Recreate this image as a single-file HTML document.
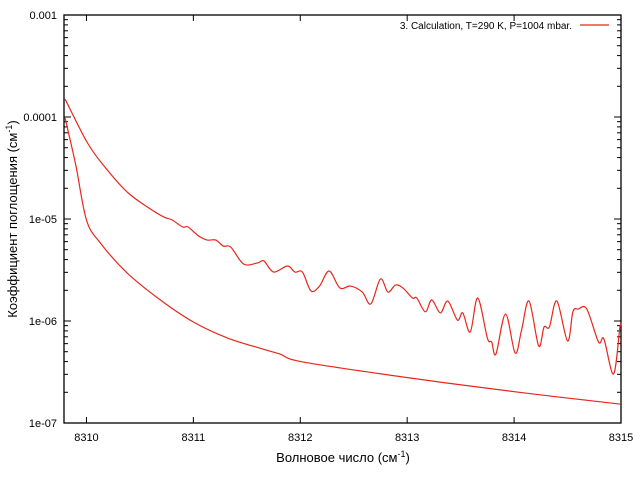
<!DOCTYPE html>
<html><head><meta charset="utf-8">
<style>
body{margin:0;background:#fff;}
svg{display:block;font-family:"Liberation Sans","DejaVu Sans",sans-serif;}
</style></head>
<body>
<svg id="chart" width="640" height="480" viewBox="0 0 640 480" xmlns="http://www.w3.org/2000/svg">
<rect width="640" height="480" fill="#fff"/>
<g id="axes"></g>
<g id="series"></g>
<text x="343" y="462" font-size="13" text-anchor="middle">Волновое число (см<tspan dy="-5" font-size="9">-1</tspan><tspan dy="5">)</tspan></text>
<text transform="translate(17,219) rotate(-90)" font-size="13" text-anchor="middle">Коэффициент поглощения (см<tspan dy="-5" font-size="9">-1</tspan><tspan dy="5">)</tspan></text>
<g>
<text x="572" y="29" font-size="10" text-anchor="end">3. Calculation, T=290 K, P=1004 mbar.</text>
<line x1="580" y1="25" x2="609" y2="25" stroke="#e8261b" stroke-width="1.2"/>
</g>
</svg>
<script>
const xTicks = [8310, 8311, 8312, 8313, 8314, 8315];
const yTicks = [1e-7, 1e-6, 1e-5, 1e-4, 1e-3];
const yTickLabels = ["1e-07", "1e-06", "1e-05", "0.0001", "0.001"];
const upperX = [8309.80,8310.01,8310.18,8310.38,8310.57,8310.72,8310.80,8310.90,8310.95,8311.05,8311.13,8311.21,8311.28,8311.35,8311.47,8311.60,8311.66,8311.75,8311.88,8311.95,8312.02,8312.10,8312.18,8312.27,8312.37,8312.47,8312.58,8312.66,8312.75,8312.82,8312.89,8312.96,8313.05,8313.09,8313.17,8313.23,8313.31,8313.38,8313.47,8313.52,8313.59,8313.66,8313.75,8313.79,8313.83,8313.92,8314.01,8314.07,8314.14,8314.23,8314.28,8314.33,8314.40,8314.50,8314.55,8314.60,8314.68,8314.79,8314.84,8314.93,8314.99,8315.00];
const upperY = [1.50e-4,5.56e-5,3.16e-5,1.84e-5,1.31e-5,1.05e-5,9.8e-6,8.35e-6,8.35e-6,6.81e-6,6.22e-6,6.22e-6,5.43e-6,5.31e-6,3.62e-6,3.71e-6,3.88e-6,3.02e-6,3.46e-6,3.02e-6,3.02e-6,1.97e-6,2.20e-6,3.09e-6,2.11e-6,2.20e-6,1.92e-6,1.47e-6,2.58e-6,1.92e-6,2.25e-6,2.11e-6,1.68e-6,1.68e-6,1.23e-6,1.61e-6,1.20e-6,1.57e-6,1.02e-6,1.20e-6,7.80e-7,1.68e-6,6.81e-7,6.22e-7,4.74e-7,1.17e-6,4.85e-7,8.16e-7,1.57e-6,5.69e-7,8.73e-7,8.73e-7,1.57e-6,6.37e-7,1.23e-6,1.31e-6,1.31e-6,6.22e-7,6.67e-7,3.02e-7,8.73e-7,9.0e-7];
const lowerX = [8309.80,8309.90,8310.00,8310.13,8310.38,8310.69,8311.00,8311.32,8311.65,8311.81,8312.03,8313.03,8314.03,8315.00];
const lowerY = [9.77e-5,3.38e-5,9.8e-6,5.82e-6,2.96e-6,1.61e-6,9.77e-7,6.81e-7,5.31e-7,4.74e-7,3.96e-7,2.76e-7,2.01e-7,1.53e-7];

const L=64,R=621,T=15,B=423;
const xMin=8309.79,xMax=8315;
const yMinE=-7,yMaxE=-3;
function sx(v){return L+(v-xMin)/(xMax-xMin)*(R-L);}
function sy(v){return B-(Math.log10(v)-yMinE)/(yMaxE-yMinE)*(B-T);}
const NS="http://www.w3.org/2000/svg";
const axes=document.getElementById('axes');
function mk(tag,attrs,parent){const e=document.createElementNS(NS,tag);for(const k in attrs)e.setAttribute(k,attrs[k]);parent.appendChild(e);return e;}

const frame=mk('rect',{x:L,y:T,width:R-L,height:B-T,fill:'none',stroke:'#000','stroke-width':1.3},axes);



xTicks.forEach(v=>{
  const x=sx(v);
  const t1=mk('line',{x1:x,y1:B,x2:x,y2:B-6,stroke:'#000'},axes);
  
  
  const t2=mk('line',{x1:x,y1:T,x2:x,y2:T+6,stroke:'#000'},axes);
  
  
  const lb=mk('text',{x:x,y:441,'font-size':11,'text-anchor':'middle'},axes);
  lb.textContent=String(v);
  
  
});
yTicks.forEach((v,i)=>{
  const y=sy(v);
  const t1=mk('line',{x1:L,y1:y,x2:L+7,y2:y,stroke:'#000'},axes);
  
  
  const t2=mk('line',{x1:R,y1:y,x2:R-7,y2:y,stroke:'#000'},axes);
  
  
  const lb=mk('text',{x:57,y:y+4,'font-size':11,'text-anchor':'end'},axes);
  lb.textContent=yTickLabels[i];
  
  
  if(i<yTicks.length-1){
    for(let m=2;m<=9;m++){
      const yy=sy(v*m);
      const a=mk('line',{x1:L,y1:yy,x2:L+4,y2:yy,stroke:'#000'},axes);
      
      
      const b=mk('line',{x1:R,y1:yy,x2:R-4,y2:yy,stroke:'#000'},axes);
      
      
    }
  }
});

const series=document.getElementById('series');
function drawLine(xs,ys,name){
  const pts=xs.map((x,i)=>[sx(x),sy(ys[i])]);
  let d='M'+pts[0][0].toFixed(2)+','+pts[0][1].toFixed(2);
  for(let i=0;i<pts.length-1;i++){
    const p0=pts[Math.max(0,i-1)],p1=pts[i],p2=pts[i+1],p3=pts[Math.min(pts.length-1,i+2)];
    const c1x=p1[0]+(p2[0]-p0[0])/6,c1y=p1[1]+(p2[1]-p0[1])/6;
    const c2x=p2[0]-(p3[0]-p1[0])/6,c2y=p2[1]-(p3[1]-p1[1])/6;
    d+=' C'+c1x.toFixed(2)+','+c1y.toFixed(2)+' '+c2x.toFixed(2)+','+c2y.toFixed(2)+' '+p2[0].toFixed(2)+','+p2[1].toFixed(2);
  }
  const p=mk('path',{d:d,fill:'none',stroke:'#e8261b','stroke-width':1.2},series);
  
  
}
drawLine(upperX,upperY,'upper-absorption-line');
drawLine(lowerX,lowerY,'lower-absorption-line');
</script>
</body></html>
